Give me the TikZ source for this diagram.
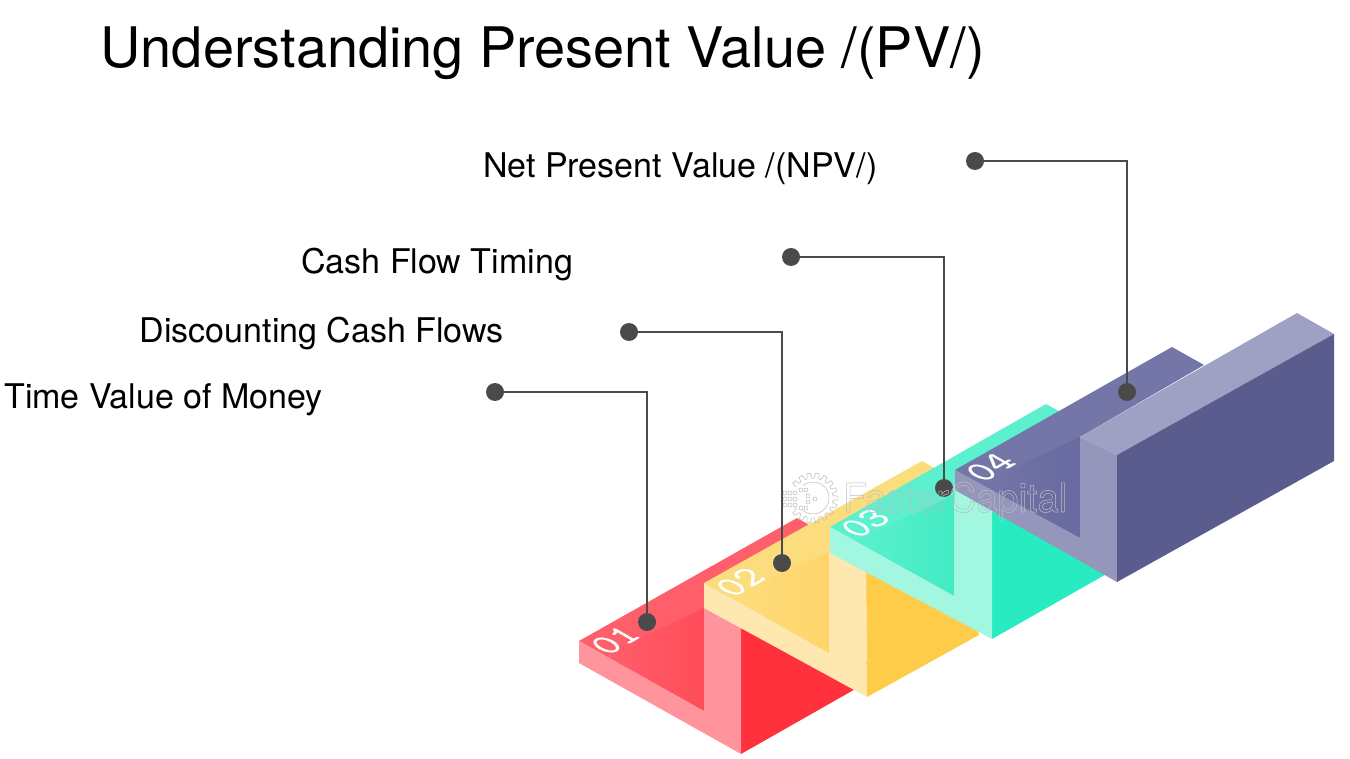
\documentclass[tikz,border=0pt]{standalone}
\usepackage{fontspec}
\setmainfont{TeX Gyre Heros}
\usetikzlibrary{calc}
\definecolor{ink}{HTML}{4A4A4A}
\definecolor{wm}{HTML}{BDBDBD}
\definecolor{rT}{HTML}{FF5F6B}\definecolor{rI}{HTML}{FF4C59}\definecolor{rS}{HTML}{FF949C}\definecolor{rD}{HTML}{FF313C}
\definecolor{yT}{HTML}{FCDD7E}\definecolor{yI}{HTML}{FFD56A}\definecolor{yS}{HTML}{FFE8B0}\definecolor{yD}{HTML}{FFCC4A}
\definecolor{tT}{HTML}{5CF0CE}\definecolor{tI}{HTML}{42EBC4}\definecolor{tS}{HTML}{A2F7E0}\definecolor{tD}{HTML}{28EBC1}
\definecolor{pT}{HTML}{7476A8}\definecolor{pI}{HTML}{686AA0}\definecolor{pS}{HTML}{9496BC}\definecolor{pL}{HTML}{9FA1C4}\definecolor{pD}{HTML}{5A5C8E}
\tikzset{
 labeltext/.style={font=\fontsize{25.5}{28}\selectfont,text=black,inner sep=0pt,anchor=base west},
 titletext/.style={font=\fontsize{41.9}{46}\selectfont,text=black,inner sep=0pt,anchor=base west},
 num/.style={font=\fontsize{29}{31}\selectfont\ttfamily,text=white,inner sep=0pt,transform shape},
 link/.style={draw=ink,line width=2.1pt},
 dot/.style={circle,fill=ink,minimum size=13.5pt,inner sep=0pt},
 wmline/.style={draw=wm,line width=0.4pt},
 wmtext/.style={font=\fontsize{30}{32}\selectfont,inner sep=0pt,anchor=base west,xscale=0.95},
}
\newcommand{\outlined}[1]{\special{pdf:code q 1 Tr 0.4 w 0.74 G}#1\special{pdf:code Q}}
\newcommand{\heavy}[1]{\special{pdf:code q 2 Tr 0.2 w 1 G}#1\special{pdf:code Q}}
\begin{document}
\begin{tikzpicture}[x=0.75pt,y=-0.75pt]
\useasboundingbox (0,0) rectangle (1350,759);
\fill[white] (0,0) rectangle (1350,759);
% red
\fill[rD] (741,628) -- (741,754) -- (880,675) -- (800,600) -- cycle;
\fill[rT] (579,641) -- (797,518) -- (840,542) -- (704,608) -- (704,711) -- cycle;
\shade[left color=rT,right color=rI] (604,655) -- (704,608) -- (704,711) -- cycle;
\fill[rS] (579,641) -- (704,711) -- (704,608) -- (741,628) -- (741,754) -- (579,663) -- cycle;
% yellow
\fill[yD] (866,572) -- (867,697) -- (979,635) -- (960,560) -- cycle;
\fill[yT] (704,583) -- (922,461) -- (965,485) -- (829,552) -- (829,653) -- cycle;
\shade[left color=yT,right color=yI] (729,597) -- (829,552) -- (829,653) -- cycle;
\fill[yS] (704,583) -- (829,653) -- (829,552) -- (866,572) -- (867,697) -- (704,608) -- cycle;
% teal
\fill[tD] (992,505) -- (992,639) -- (1117,568) -- (1117,490) -- cycle;
\fill[tT] (830,527) -- (1046,404) -- (1090,428) -- (954,497) -- (954,596) -- cycle;
\shade[left color=tT,right color=tI] (855,541) -- (954,495) -- (954,596) -- cycle;
\fill[tS] (830,527) -- (954,596) -- (954,485) -- (992,505) -- (992,639) -- (830,553) -- cycle;
% purple
\fill[pT] (955,470) -- (1172,347) -- (1204,365) -- (1080,437) -- (1080,538) -- cycle;
\shade[left color=pT,right color=pI] (980,484) -- (1080,437) -- (1080,538) -- cycle;
\fill[pS] (955,470) -- (1080,538) -- (1080,437) -- (1117,455) -- (1117,582) -- (955,490) -- cycle;
\fill[pL] (1080,437) -- (1297,313) -- (1334,334) -- (1117,455) -- cycle;
\fill[pD] (1117,455) -- (1334,334) -- (1334,461) -- (1117,582) -- cycle;
% numbers (lying in the isometric plane)
\begin{scope}[shift={(615,640)},cm={0.87,0.5,-0.87,0.5,(0,0)}]\node[num] (n1) at (0,0) {\heavy{01}};\end{scope}
\begin{scope}[shift={(740,582)},cm={0.87,0.5,-0.87,0.5,(0,0)}]\node[num] (n2) at (0,0) {\heavy{02}};\end{scope}
\begin{scope}[shift={(865,523)},cm={0.87,0.5,-0.87,0.5,(0,0)}]\node[num] (n3) at (0,0) {\heavy{03}};\end{scope}
\begin{scope}[shift={(990,467)},cm={0.87,0.5,-0.87,0.5,(0,0)}]\node[num] (n4) at (0,0) {\heavy{04}};\end{scope}
% labels
\node[titletext] (title) at (100.5,68) {Understanding Present Value /(PV/)};
\node[labeltext] (l4) at (483,177.5) {Net Present Value /(NPV/)};
\node[labeltext] (l3) at (301,274) {Cash Flow Timing};
\node[labeltext] (l2) at (139.5,343) {Discounting Cash Flows};
\node[labeltext] (l1) at (4,408) {Time Value of Money};
% connectors
\node[dot] (a1) at (495,392) {}; \node[dot] (b1) at (647,622) {};
\node[dot] (a2) at (629,332) {}; \node[dot] (b2) at (782,563) {};
\node[dot] (a3) at (791,257) {}; \node[dot] (b3) at (944,488) {};
\node[dot] (a4) at (975,161) {}; \node[dot] (b4) at (1127,392) {};
\draw[link] (a1.center) -| (b1.center);
\draw[link] (a2.center) -| (b2.center);
\draw[link] (a3.center) -| (b3.center);
\draw[link] (a4.center) -| (b4.center);
% watermark
\node[wmtext] (wm) at (843,512) {\outlined{FasterCapital}};
\foreach \t in {-140,-120,...,140}{
  \draw[wmline] ($(813,498)+(\t-7:20)$) -- ($(813,498)+(\t-4:25)$) -- ($(813,498)+(\t+4:25)$) -- ($(813,498)+(\t+7:20)$) -- ($(813,498)+(\t+13:20)$);
}
\draw[wmline] ($(813,498)+(130:16)$) arc[start angle=130,end angle=-130,radius=16];
\foreach \px/\py/\n in {785/493/3,785/499/3,785/505/3,801/490/2,801/508/2,808/496/1,808/502/1,815/499/1}{
  \foreach \k in {1,...,\n}{\draw[wmline] ($(\px,\py)+(\k*5-5,0)$) circle[radius=2];}
}
\end{tikzpicture}
\end{document}
